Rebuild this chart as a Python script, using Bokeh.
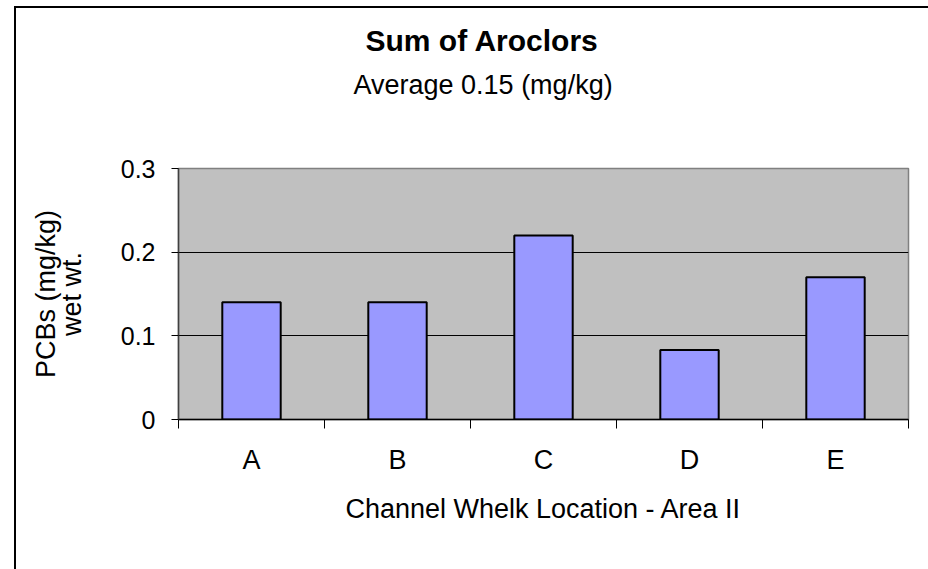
import numpy as np
from bokeh.plotting import figure
from bokeh.models import Range1d, FixedTicker, Title, ColumnDataSource, InlineStyleSheet
from bokeh.embed import file_html
from bokeh.resources import INLINE

categories = ["A", "B", "C", "D", "E"]
values = [0.14, 0.14, 0.22, 0.083, 0.17]
y_ticks = [0, 0.1, 0.2, 0.3]
y_tick_labels = ["0", "0.1", "0.2", "0.3"]
title_text = "Sum of Aroclors"
subtitle_text = "Average 0.15 (mg/kg)"
x_label = "Channel Whelk Location - Area II"
y_label = "PCBs (mg/kg)\nwet wt."

FONT = "Liberation Sans"
n = len(categories)
centers = list(np.arange(n) + 0.5)
bounds = list(np.arange(n + 1).astype(float))

p = figure(width=928, height=569, output_backend="svg", toolbar_location=None, tools="",
           x_range=Range1d(0, n), y_range=Range1d(0, 0.3),
           min_border_left=178, min_border_right=20, min_border_top=168, min_border_bottom=150)
p.background_fill_color = "#C0C0C0"
p.border_fill_color = "white"
p.outline_line_color = "#808080"
p.outline_line_width = 1.5

# outer chart border (only left and top edges are visible in the reference)
p.stylesheets = [InlineStyleSheet(css="""
:host::after {
  content: "";
  position: absolute;
  left: 14px; top: 6px; right: 0; bottom: 0;
  border: none;
  background:
    linear-gradient(black, black) left top / 2px 100% no-repeat,
    linear-gradient(black, black) left top / 100% 2px no-repeat;
  pointer-events: none;
}
""")]

src = ColumnDataSource(dict(x=centers, top=values, cat=categories))
p.vbar(x="x", top="top", bottom=0, width=0.4, source=src,
       fill_color="#9999FF", line_color="black", line_width=2)

# grid
p.xgrid.visible = False
p.ygrid.ticker = FixedTicker(ticks=y_ticks[1:-1])
p.ygrid.grid_line_color = "black"
p.ygrid.grid_line_width = 1

# titles: spacer nearest the frame, then subtitle, then main title outermost
p.title.text = title_text
p.title.align = "left"
p.title.offset = 187
p.title.text_font = FONT
p.title.text_font_size = "30px"
p.title.text_font_style = "bold"
p.title.text_color = "black"
p.title.standoff = 11
spacer = Title(text=" ", text_font=FONT, text_font_size="10px", text_color="white",
               standoff=51)
sub = Title(text=subtitle_text, align="left", offset=175, text_font=FONT,
            text_font_size="27px", text_font_style="normal", text_color="black",
            standoff=10)
p.add_layout(spacer, "above")
p.add_layout(sub, "above")

# x axis
xa = p.xaxis[0]
xa.ticker = FixedTicker(ticks=centers, minor_ticks=bounds)
xa.major_label_overrides = {c: lab for c, lab in zip(centers, categories)}
xa.major_tick_line_color = None
xa.major_tick_out = 9
xa.major_tick_in = 0
xa.minor_tick_line_color = "black"
xa.minor_tick_out = 9
xa.minor_tick_in = 0
xa.axis_line_color = "black"
xa.axis_line_width = 1.5
xa.major_label_text_font = FONT
xa.major_label_text_font_size = "27px"
xa.major_label_text_color = "black"
xa.major_label_standoff = 16
xa.axis_label = x_label
xa.axis_label_text_font = FONT
xa.axis_label_text_font_size = "27px"
xa.axis_label_text_font_style = "normal"
xa.axis_label_text_color = "black"
xa.axis_label_standoff = 16

# y axis
ya = p.yaxis[0]
ya.ticker = FixedTicker(ticks=y_ticks, minor_ticks=[])
ya.major_label_overrides = {t: lab for t, lab in zip(y_ticks, y_tick_labels)}
ya.major_tick_line_color = "black"
ya.major_tick_out = 7
ya.major_tick_in = 0
ya.axis_line_color = "#404040"
ya.axis_line_width = 1.5
ya.major_label_text_font = FONT
ya.major_label_text_font_size = "25px"
ya.major_label_text_color = "black"
ya.major_label_standoff = 16
ya.axis_label = y_label
ya.axis_label_text_font = FONT
ya.axis_label_text_font_size = "27px"
ya.axis_label_text_font_style = "normal"
ya.axis_label_text_color = "black"
ya.axis_label_text_line_height = 0.85
ya.axis_label_standoff = 31

open("out.html", "w").write(file_html(p, INLINE))
